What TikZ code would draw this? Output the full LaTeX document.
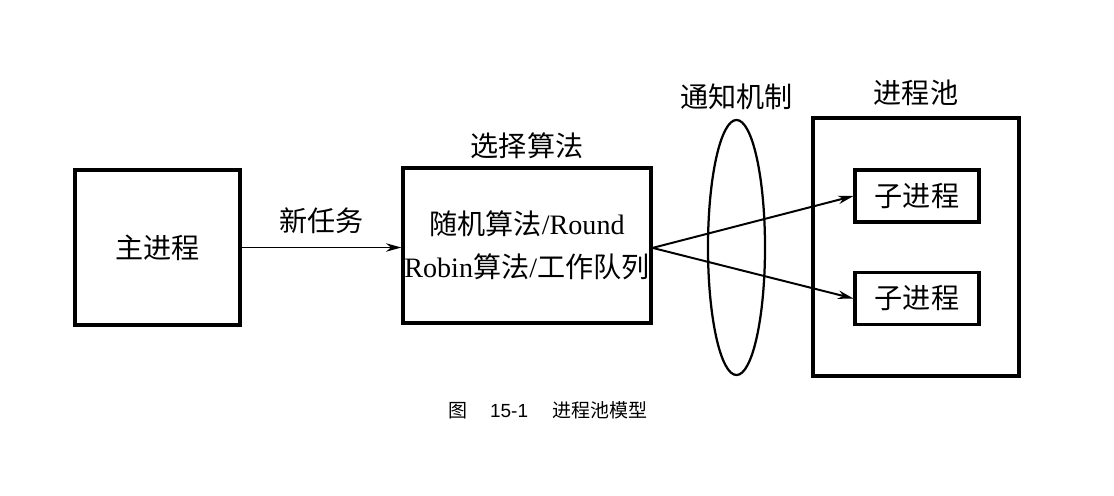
\documentclass[tikz,border=0pt]{standalone}
\usepackage{fontspec}
\setmainfont{Liberation Serif}
\newfontfamily\cjk{Noto Sans CJK SC}
\newfontfamily\capfont{Liberation Sans}
\usetikzlibrary{arrows.meta,shapes.geometric}
\begin{document}
\begin{tikzpicture}[x=0.025cm, y=-0.025cm,
  box/.style={draw, line width=2.2pt, inner sep=0pt},
  txt/.style={font=\fontsize{20}{30.5}\selectfont},
  arr/.style={-{Stealth[length=11pt,width=6pt]}, line width=1.4pt}]
\useasboundingbox (0,0) rectangle (1114,495);
\node[box, txt, minimum width=4.125cm, minimum height=3.875cm] (main) at (157.5,247.5) {\cjk 主进程};
\node[box, txt, align=center, minimum width=6.2cm, minimum height=3.875cm] (algo) at (527,245.5) {{\cjk 随机算法}/Round\\Robin{\cjk 算法}/{\cjk 工作队列}};
\node[box, minimum width=5.15cm, minimum height=6.45cm] (pool) at (916,247) {};
\node[box, txt, minimum width=3.1cm, minimum height=1.3cm] (sub1) at (917,196) {\cjk 子进程};
\node[box, txt, minimum width=3.1cm, minimum height=1.3cm] (sub2) at (917,298.5) {\cjk 子进程};
\node[draw, ellipse, line width=1.6pt, inner sep=0pt, minimum width=1.425cm, minimum height=6.375cm] (notify) at (736.5,247.5) {};
\node[txt, above=2pt] (algolbl) at (algo.north) {\cjk 选择算法};
\node[txt, above=3pt] (notifylbl) at (notify.north) {\cjk 通知机制};
\node[txt, above=4pt] (poollbl) at (pool.north) {\cjk 进程池};
\draw[arr, line width=1.2pt] (main.east) -- (main.east -| algo.west) node[txt, midway, above=6pt] (task) {\cjk 新任务};
\draw[arr] ([yshift=-0.06cm]algo.east) -- (sub1.west);
\draw[arr] ([yshift=-0.06cm]algo.east) -- (sub2.west);
\node[font=\fontsize{13.5}{16}\selectfont] (caption) at (548,410) {{\cjk 图}\hspace{1.2em}{\capfont 15-1}\hspace{1.3em}{\cjk 进程池模型}};
\end{tikzpicture}
\end{document}
